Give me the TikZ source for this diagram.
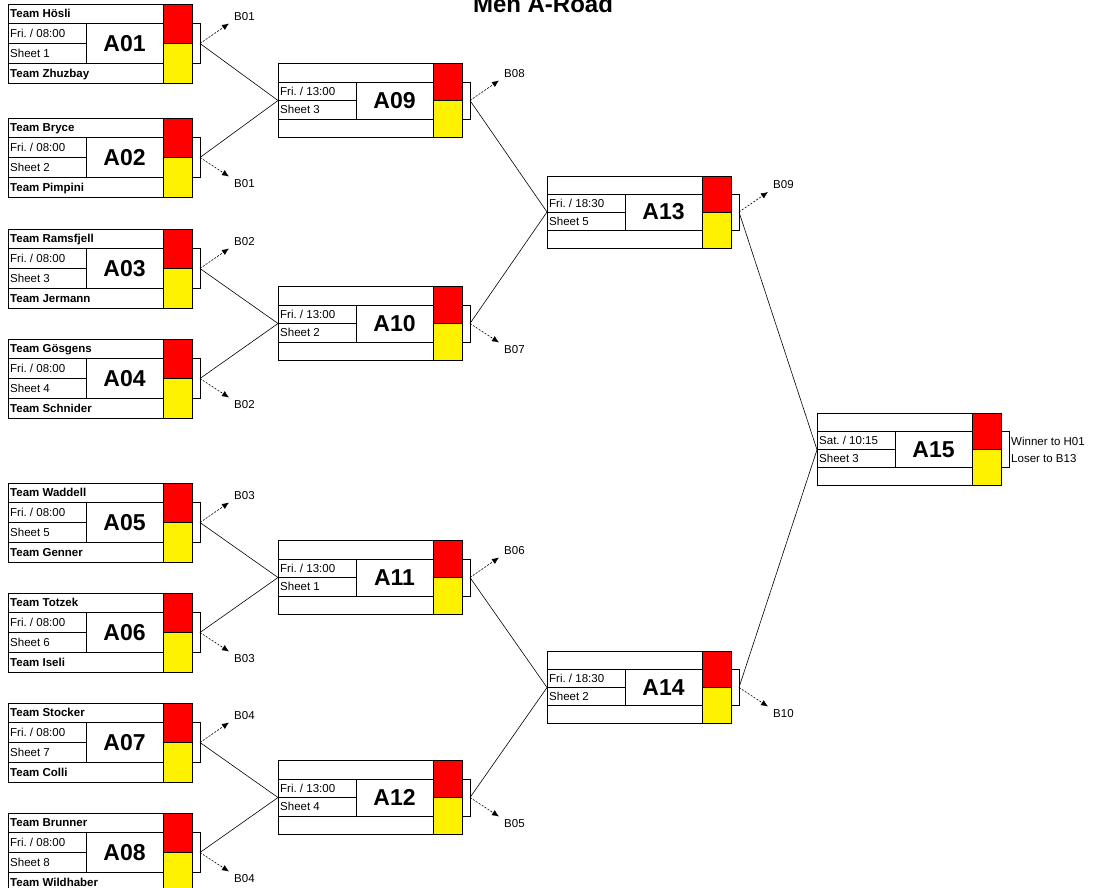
\documentclass[tikz,border=0pt]{standalone}
\usepackage{fontspec}
\setmainfont{Liberation Sans}
\usepackage{tikz}
\usetikzlibrary{arrows.meta,positioning}
\frenchspacing

\tikzset{
    boxline/.style={line width=0.8pt},
    feed/.style={line width=0.6pt},
    loser/.style={line width=0.6pt, dash pattern=on 2pt off 1.5pt, -{Latex[length=7pt,width=6pt]}},
    teamtext/.style={anchor=base west, inner sep=0pt, font=\fontsize{11.5}{13}\selectfont\bfseries},
    infotext/.style={anchor=base west, inner sep=0pt, font=\fontsize{11.5}{13}\selectfont},
    idtext/.style={inner sep=0pt, font=\fontsize{23}{26}\selectfont\bfseries},
    blabel/.style={inner xsep=5pt, inner ysep=3pt, font=\fontsize{11.5}{13}\selectfont},
}

% #1 game, #2 left, #3 top, #4 height, #5 time, #6 sheet
\newcommand{\matchbox}[6]{
    \fill[red] (#2+155,#3) rectangle (#2+184,#3+#4/2);
    \fill[yellow] (#2+155,#3+#4/2) rectangle (#2+184,#3+#4);
    \draw[boxline] (#2,#3) rectangle (#2+184,#3+#4);
    \draw[boxline] (#2+155,#3) -- (#2+155,#3+#4);
    \draw[boxline] (#2,#3+#4/4) -- (#2+155,#3+#4/4);
    \draw[boxline] (#2,#3+3*#4/4) -- (#2+155,#3+3*#4/4);
    \draw[boxline] (#2,#3+#4/2) -- (#2+78,#3+#4/2);
    \draw[boxline] (#2+155,#3+#4/2) -- (#2+184,#3+#4/2);
    \draw[boxline] (#2+78,#3+#4/4) -- (#2+78,#3+3*#4/4);
    \draw[boxline] (#2+184,#3+#4/4) -| (#2+192,#3+3*#4/4) -- (#2+184,#3+3*#4/4);
    \coordinate (#1-in) at (#2,#3+#4/2);
    \coordinate (#1-out) at (#2+192,#3+#4/2);
    \coordinate (#1-r1) at (#2+2,#3+#4/8+4);
    \coordinate (#1-r4) at (#2+2,#3+7*#4/8+4);
    \node[infotext] (#1-time) at (#2+2,#3+3*#4/8+4) {#5};
    \node[infotext] (#1-sheet) at (#2+2,#3+5*#4/8+4) {#6};
    \node[idtext] (#1-id) at (#2+116.5,#3+#4/2) {#1};
}
\newcommand{\teamnames}[3]{
    \node[teamtext] (#1-up) at (#1-r1) {#2};
    \node[teamtext] (#1-down) at (#1-r4) {#3};
}

\begin{document}
\begin{tikzpicture}[x=1pt,y=-1pt]
    \useasboundingbox (0,0) rectangle (1100,887);
    \fill[white] (0,0) rectangle (1100,887);

    \node[font=\fontsize{24}{28}\selectfont\bfseries, anchor=base] (title) at (543,12) {Men A-Road};

    \matchbox{A01}{8}{4}{79}{Fri. / 08:00}{Sheet 1}
    \teamnames{A01}{Team Hösli}{Team Zhuzbay}
    \matchbox{A02}{8}{118}{79}{Fri. / 08:00}{Sheet 2}
    \teamnames{A02}{Team Bryce}{Team Pimpini}
    \matchbox{A03}{8}{229}{79}{Fri. / 08:00}{Sheet 3}
    \teamnames{A03}{Team Ramsfjell}{Team Jermann}
    \matchbox{A04}{8}{339}{79}{Fri. / 08:00}{Sheet 4}
    \teamnames{A04}{Team Gösgens}{Team Schnider}
    \matchbox{A05}{8}{483}{79}{Fri. / 08:00}{Sheet 5}
    \teamnames{A05}{Team Waddell}{Team Genner}
    \matchbox{A06}{8}{593}{79}{Fri. / 08:00}{Sheet 6}
    \teamnames{A06}{Team Totzek}{Team Iseli}
    \matchbox{A07}{8}{703}{79}{Fri. / 08:00}{Sheet 7}
    \teamnames{A07}{Team Stocker}{Team Colli}
    \matchbox{A08}{8}{813}{79}{Fri. / 08:00}{Sheet 8}
    \teamnames{A08}{Team Brunner}{Team Wildhaber}

    \matchbox{A09}{278}{63.5}{74}{Fri. / 13:00}{Sheet 3}
    \matchbox{A10}{278}{286.5}{74}{Fri. / 13:00}{Sheet 2}
    \matchbox{A11}{278}{540.5}{74}{Fri. / 13:00}{Sheet 1}
    \matchbox{A12}{278}{760.5}{74}{Fri. / 13:00}{Sheet 4}

    \matchbox{A13}{547}{176}{72}{Fri. / 18:30}{Sheet 5}
    \matchbox{A14}{547}{651.5}{72}{Fri. / 18:30}{Sheet 2}

    \matchbox{A15}{817}{413.75}{72}{Sat. / 10:15}{Sheet 3}
    \node[infotext] (A15-winner) at (1011,445) {Winner to H01};
    \node[infotext] (A15-loser) at (1011,462) {Loser to B13};

    \draw[feed] (A01-out) -- (A09-in);
    \draw[feed] (A02-out) -- (A09-in);
    \draw[feed] (A03-out) -- (A10-in);
    \draw[feed] (A04-out) -- (A10-in);
    \draw[feed] (A05-out) -- (A11-in);
    \draw[feed] (A06-out) -- (A11-in);
    \draw[feed] (A07-out) -- (A12-in);
    \draw[feed] (A08-out) -- (A12-in);
    \draw[feed] (A09-out) -- (A13-in);
    \draw[feed] (A10-out) -- (A13-in);
    \draw[feed] (A11-out) -- (A14-in);
    \draw[feed] (A12-out) -- (A14-in);
    \draw[feed] (A13-out) -- (A15-in);
    \draw[feed] (A14-out) -- (A15-in);

    \node[blabel, above right=20pt and 29pt of A01-out] (A01-next) {B01};
    \node[blabel, below right=19pt and 29pt of A02-out] (A02-next) {B01};
    \node[blabel, above right=20pt and 29pt of A03-out] (A03-next) {B02};
    \node[blabel, below right=19pt and 29pt of A04-out] (A04-next) {B02};
    \node[blabel, above right=20pt and 29pt of A05-out] (A05-next) {B03};
    \node[blabel, below right=19pt and 29pt of A06-out] (A06-next) {B03};
    \node[blabel, above right=20pt and 29pt of A07-out] (A07-next) {B04};
    \node[blabel, below right=19pt and 29pt of A08-out] (A08-next) {B04};
    \node[blabel, above right=20pt and 29pt of A09-out] (A09-next) {B08};
    \node[blabel, below right=19pt and 29pt of A10-out] (A10-next) {B07};
    \node[blabel, above right=20pt and 29pt of A11-out] (A11-next) {B06};
    \node[blabel, below right=19pt and 29pt of A12-out] (A12-next) {B05};
    \node[blabel, above right=20pt and 29pt of A13-out] (A13-next) {B09};
    \node[blabel, below right=19pt and 29pt of A14-out] (A14-next) {B10};

    \draw[loser] (A01-out) -- (A01-next.south west);
    \draw[loser] (A02-out) -- (A02-next.north west);
    \draw[loser] (A03-out) -- (A03-next.south west);
    \draw[loser] (A04-out) -- (A04-next.north west);
    \draw[loser] (A05-out) -- (A05-next.south west);
    \draw[loser] (A06-out) -- (A06-next.north west);
    \draw[loser] (A07-out) -- (A07-next.south west);
    \draw[loser] (A08-out) -- (A08-next.north west);
    \draw[loser] (A09-out) -- (A09-next.south west);
    \draw[loser] (A10-out) -- (A10-next.north west);
    \draw[loser] (A11-out) -- (A11-next.south west);
    \draw[loser] (A12-out) -- (A12-next.north west);
    \draw[loser] (A13-out) -- (A13-next.south west);
    \draw[loser] (A14-out) -- (A14-next.north west);
\end{tikzpicture}
\end{document}
